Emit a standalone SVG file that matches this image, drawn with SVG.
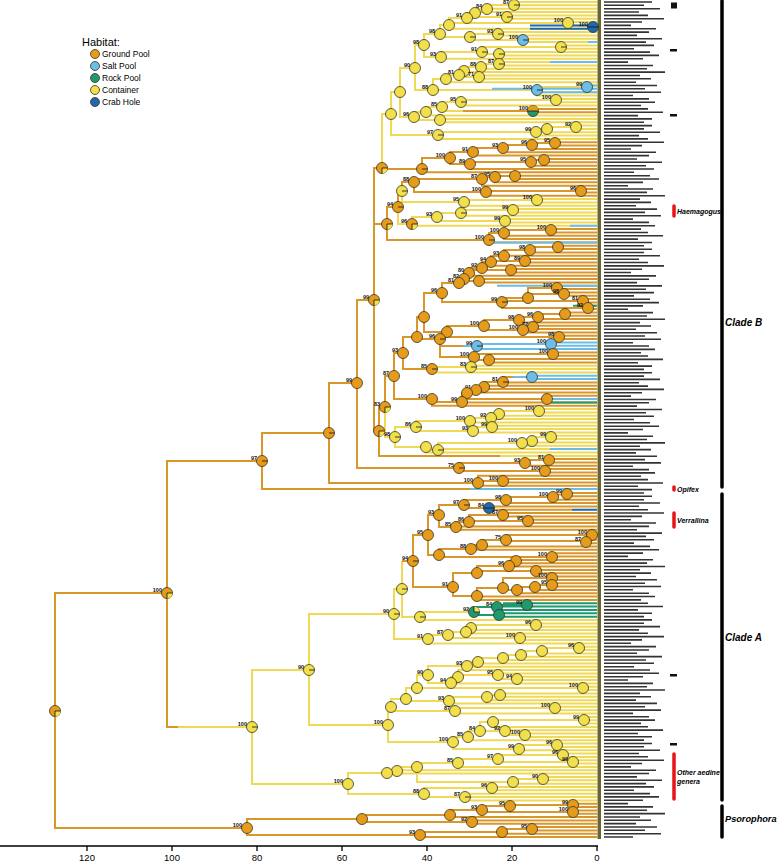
<svg xmlns="http://www.w3.org/2000/svg" width="779" height="862" viewBox="0 0 779 862">
<style>
.br{fill:none;stroke-width:2}
.O{stroke:#D9962A}.Y{stroke:#EFD955}.LB{stroke:#6CBDE6}.G{stroke:#1E9A70}.DB{stroke:#1F69AC}
.l{font-family:"Liberation Sans",Arial,sans-serif;font-size:5.5px;font-weight:bold;fill:#111;text-anchor:end}
.lab{font-family:"Liberation Sans",Arial,sans-serif;font-weight:bold;font-style:italic;fill:#000}
.ax{font-family:"Liberation Sans",Arial,sans-serif;font-size:9.5px;text-anchor:middle;fill:#000}
.lg{font-family:"Liberation Sans",Arial,sans-serif;font-size:8.5px;fill:#000}
.tk{stroke:#111;stroke-width:.8;fill:none}
.cs{stroke:#3a3320;stroke-width:.8}
</style>
<defs>
<g id="o"><circle r="5.5" fill="#E69C1A" class="cs"/></g>
<g id="ot"><circle r="5.5" fill="#E69C1A" class="cs"/><path d="M0 0H5.5" class="tk"/></g>
<g id="y"><circle r="5.5" fill="#F1E04C" class="cs"/></g>
<g id="yt"><circle r="5.5" fill="#F1E04C" class="cs"/><path d="M0 0H5.5" class="tk"/></g>
<g id="lb"><circle r="5.5" fill="#6CBDE8" class="cs"/></g>
<g id="lbt"><circle r="5.5" fill="#6CBDE8" class="cs"/><path d="M0 0H5.5" class="tk"/></g>
<g id="g"><circle r="5.5" fill="#1E9A70" class="cs"/></g>
<g id="db"><circle r="5.5" fill="#1F69AC" class="cs"/><path d="M-5.5 0H5.5" class="tk"/></g>
<g id="oy"><circle r="5.5" fill="#E69C1A" class="cs"/><path d="M0 0H5.5A5.5 5.5 0 0 1 0 5.5Z" fill="#F1E04C"/><path d="M5.5 0H0V5.5" class="tk"/></g>
<g id="og"><circle r="5.5" fill="#1E9A70" class="cs"/><path d="M-5.5 0A5.5 5.5 0 0 1 5.5 0Z" fill="#E69C1A"/><path d="M-5.5 0H5.5" class="tk"/></g>
<g id="gy"><circle r="5.5" fill="#1E9A70" class="cs"/><path d="M0 0V-5.5A5.5 5.5 0 0 1 5.5 0Z" fill="#F1E04C"/><path d="M0 -5.5V0H5.5" class="tk"/></g>
</defs>
<rect width="779" height="862" fill="#fff"/>

<!-- legend -->
<g id="legend">
<text x="82" y="46" font-family="Liberation Sans, Arial, sans-serif" font-size="11">Habitat:</text>
<circle cx="95" cy="54" r="4.5" fill="#E69C1A" class="cs"/><text class="lg" x="102" y="57">Ground Pool</text>
<circle cx="95" cy="66" r="4.5" fill="#6CBDE8" class="cs"/><text class="lg" x="102" y="69">Salt Pool</text>
<circle cx="95" cy="78" r="4.5" fill="#1E9A70" class="cs"/><text class="lg" x="102" y="81">Rock Pool</text>
<circle cx="95" cy="90" r="4.5" fill="#F1E04C" class="cs"/><text class="lg" x="102" y="93">Container</text>
<circle cx="95" cy="102" r="4.5" fill="#1F69AC" class="cs"/><text class="lg" x="102" y="105">Crab Hole</text>
</g>

<!-- connectors -->
<g id="connectors">
<path class="br Y" d="M391 114V92H400M391 114V135H438M400 92V68H415M400 92V117H414M415 68V45H424M415 68V90H433M424 45V34H440M424 45V57H441M440 34V25H449M440 34V37H470M449 25V18H467M449 25V23H568M449 25V28.7H597M467 18V13H475M467 18V17H507M475 13V9H487M475 13V12H597M487 9V5H514M487 9V8.7H597M514 5V2H597M514 5V5.3H597M507 17V15.4H597M507 17V18.7H597M568 23V22H597M568 23V25.4H597M470 37V34H498M470 37V40H523M498 34V32H597M498 34V35.4H597M523 40V38.7H597M523 40V42H597M441 57V52H482M441 57V58.8H597M482 52V47H561M482 52V54H499M561 47V45.4H597M561 47V48.8H597M499 54V52.1H597M499 54V55.4H597M433 90H537M446 79V75H459M433 90V79H446M446 79V82.2H597M459 75V71H464M459 75V77H479M464 71V67H481M464 71V72.1H597M481 67V64H499M481 67V68.8H597M499 64V62.1H597M499 64V65.5H597M479 77V75.5H597M479 77V78.8H597M537 90V87H587M537 90V92.2H597M537 90V95.5H597M587 87V85.5H597M587 87V88.8H597M414 117V112H426M414 117V120H440M426 112V107H442M426 112V115.6H597M442 107V102H461M442 107V111H463M461 102V100H556M461 102V105.5H597M556 100V98.9H597M556 100V102.2H597M440 120V118.9H597M440 120V122.2H597M438 135V132H536M438 135V138.9H597M536 132V129H547M536 132V135.6H597M547 129V127H576M547 129V132.3H597M576 127V125.6H597M576 127V128.9H597M382 168V114H391
M402 191V202H464M464 202V200H537M464 202V205.7H597M537 200V199H597M537 200V202.4H597M398 207V224H412M412 224V217H437M412 224V225.7H597M437 217V213H461M437 217V221H505M461 213V210H513M461 213V215.7H597M513 210V209H597M513 210V212.4H597M505 221V219H597M505 221V222.4H597
M385 407V437H395M395 437V427H416M395 437V447H426M416 427V421H470M416 427V431H473M470 421V418H491M470 421V422.4H597M491 418V414H499M491 418V419H597M499 414V411H539M499 414V415.8H597M539 411V409H597M539 411V412.4H597M473 431V427H492M473 431V432.4H597M492 427V425.8H597M492 427V429H597M426 447V450H438M426 447V452.4H597M438 450V443H522M438 450V449H597M522 443V441H532M522 443V445.8H597M532 441V437H551M532 441V442.4H597M551 437V435.8H597M551 437V439H597M432 369V367H471M432 369V372.4H597M471 367V365.8H597M471 367V369H597M500 456H597
M178 727H252M252 727V670H309M252 727V784H348M309 670V614H394M309 670V725H388M394 614V589H402M394 614V639H428M402 589V561M402 589V617H420M420 617V612H474M420 617V620H597M428 639V635H448M428 639V643.4H597M448 635V632H466M448 635V638H520M466 632V628H471M466 632V633.4H597M471 628V625H536M471 628V630H597M536 625V623.4H597M536 625V626.7H597M520 638V636.7H597M520 638V640H597M388 725V707H391M388 725V742H453M391 707V699H406M391 707V711H455M406 699V688H417M406 699V701H449M417 688V675H428M417 688V688H583M428 675V666H467M428 675V683H451M467 666V662H478M467 666V666.8H597M478 662V658H503M478 662V663.4H597M503 658V655H521M503 658V660.1H597M521 655V651H542M521 655V656.7H597M542 651V648H579M542 651V653.4H597M579 648V646.7H597M579 648V650.1H597M451 683V677H458M451 683V683.5H597M458 677V670.1H597M458 677V675H498M498 675V679H517M498 675V673.4H597M517 679V676.8H597M517 679V680.1H597M583 688V686.8H597M583 688V690.1H597M449 701V697H487M449 701V703.5H597M487 697V695H500M487 697V700.2H597M500 695V693.5H597M500 695V696.8H597M455 711V708H555M455 711V713.5H597M555 708V706.8H597M555 708V710.2H597M453 742V737H468M453 742V749H519M468 737V731H480M468 737V740.2H597M480 731V722H493M480 731H505M493 722V720H584M493 722V726.9H597M584 720V716.9H597M584 720V720.2H597M584 720V723.5H597M505 731V730.2H597M505 731V735H525M525 735V733.6H597M525 735V736.9H597M519 749V745H557M519 749V750.3H597M557 745V743.6H597M557 745V746.9H597M348 784V773H387M348 784V794H424M387 773V771H397M387 773V773.6H597M397 771V767H417M397 771V770.3H597M417 767V763H458M417 767V782H513M458 763V759H498M458 763V767H597M498 759V755H563M498 759V762H573M563 755V753.6H597M563 755V756.9H597M573 762V760.3H597M573 762V763.6H597M513 782V779H543M513 782V783.7H597M543 779V777H597M543 779V780.3H597M424 794V788H492M424 794V797H465M492 788V787H597M492 788V790.3H597M465 797V793.7H597M465 797V797H597M465 797V800.4H597"/>
<path class="br O" d="M55 711V593H167M55 711V828H247M167 593V461H262M167 593V727H178M262 461V433H329M262 461V489H470M329 433V383H357M329 433V483H478M357 383V300H374M357 383V468H459M374 300V168H382M374 300V224H387M374 300V431H379M382 168V169H422M422 169V158H450M422 169V172.3H597M450 158V152H473M450 158V164H470M473 152V148H503M473 152V155.6H597M503 148V145H532M503 148V152.3H597M532 145V143H555M532 145V149H597M555 143V142.3H597M555 143V145.6H597M470 164V162H531M470 164V169H597M531 162V160H544M531 162V165.7H597M544 160V159H597M544 160V162.3H597M387 224V207H398M387 224V240H489M398 207V191H402M402 191V182H414M414 182V179H482M414 182V192H486M482 179V177H495M482 179V185.7H597M495 177V176H515M495 177V182.3H597M515 176V175.7H597M515 176V179H597M486 192V191H581M486 192V195.7H597M581 191V189H597M581 191V192.4H597M489 240V233H504M489 240V242.4H597M504 233V230H551M504 233V235.7H597M504 233V239H597M551 230V229H597M551 230V232.4H597
M379 431V407H385M379 431V456H500M385 407V376H394M394 376V353H403M394 376V399H432M403 353V337H417M403 353V369H432M417 337V317H424M417 337V339H440M424 317V293H442M424 317V332H447M442 293V283H459M442 293V302H502M459 283V279H464M459 283V281H479M464 279V273H469M464 279V275.8H597M469 273V268H482M469 273V270H511M482 268V262H491M482 268V265.7H597M491 262V256H504M491 262V261H525M504 256V250H530M504 256V255.7H597M530 250V247H558M530 250V252.4H597M558 247V245.7H597M558 247V249H597M525 261V259H597M525 261V262.4H597M511 270V269H597M511 270V272.4H597M479 281V279H597M479 281V282.4H597M502 302V298H528M502 302V301H583M502 302V308H588M528 298V288H557M528 298V294H564M557 288V285.8H597M557 288V289H597M564 294V292.4H597M564 294V295.8H597M583 301V299H597M583 301V302.4H597M588 308V305.8H597M588 308V309H597M447 332V326H484M447 332V337H559M484 326V320H519M484 326V330H523M519 320V317H538M519 320V322.4H597M538 317V314H565M538 317V319H597M565 314V312.4H597M565 314V315.8H597M523 330V327H533M523 330V332.4H597M533 327V325.8H597M533 327V329H597M559 337V335.8H597M559 337V339H597M440 339V357H474M440 339V346H463M474 357V354H553M474 357V360H489M553 354V352.4H597M553 354V355.8H597M489 360V359H597M489 360V362.4H597M432 399V402H462M432 399V405.8H597M462 402V393H467M462 402V399H547M462 402V402.4H597M547 399V395.8H597M547 399V399H597M467 393V390H476M467 393V392.4H597M476 390V387H484M476 390V389H597M484 387V382H503M484 387V385.8H597M503 382V377H513M503 382V382.4H597M459 468V463H525M459 468V471H545M525 463V460H549M525 463V465.8H597M549 460V459H597M549 460V462.4H597M545 471V469H597M545 471V472.4H597M478 483V481H503M478 483V475.8H597M478 483V485.8H597M503 481V479H597M503 481V482.4H597M463 111H533M533 111V108.9H597M533 111V112.2H597
M402 561H413M413 561V535H428M413 561V587H453M428 535V515H439M428 535V555H439M439 515V505H464M439 515V527H456M464 505V500H506M464 505V508H489M506 500V497H553M506 500V503H597M553 497V494.6H567M553 497V499.7H597M567 494.6V493H597M567 494.6V496.3H597M489 508V506.4H597M489 508V509.7H572M456 527V522H469M456 527V526.4H597M456 527V529.8H597M469 522V515H503M469 522V521H528M503 515V513H597M503 515V516.4H597M528 521V519.8H597M528 521V523.1H597M439 555V549H471M439 555V557H552M471 549V545H482M471 549V549.8H597M482 545V540H506M482 545V546.5H597M506 540V535H592M506 540V541H586M592 535V533.1H597M592 535V536.4H597M586 541V539.8H597M586 541V543.2H597M552 557V553.2H597M552 557V556.5H597M453 587V573H477M453 587V596H477M477 573V566H509M477 573V571H536M509 566V561H516M509 566V566.6H597M516 561V559.9H597M516 561V563.2H597M536 571V569.9H597M536 571V573.2H597M477 596V588H503M477 596V596.6H597M477 596V600H597M503 588V578H552M503 588V590H517M552 578V576.6H597M552 578V579.9H597M517 590V587H535M517 590V593.3H597M535 587V585H552M535 587V590H597M552 585V583.2H597M552 585V586.6H597
M247 828V819H362M247 828V835H420M362 819V815H450M362 819V822H472M450 815V810H482M450 815V817H597M482 810V806H510M482 810V812H573M510 806V805H573M573 805V803.7H597M573 805V807H597M573 812V810.4H597M573 812V813.7H597M472 822V820.4H597M472 822V823.7H597M420 835V832H502M420 835V837H597M502 832V829H532M502 832V833.7H597M532 829V827H597M532 829V830.4H597"/>
<path class="br G" d="M474 612V607H497M474 612V615H499M497 607V605H527M497 607V610H597M527 605V603.3H597M527 605V606.6H597M499 615V613.3H597M499 615V616.7H597M503 603.3H527M503 606.6H527M573 305.8H597M547 402.4H597"/>
<path class="br LB" d="M470 489H597M463 346H477M477 346V344H551M477 346V349H597M551 344V342.4H597M551 344V345.8H597M513 377H532M532 377V375.8H597M532 377V379H597M547 399H597M588 42H597M550 62.1H597M492 88.8H597M537 92.2H597M587 85.5H597M489 242.4H597M497 285.8H597M570 225.7H597M550 449H597"/>
<path class="br DB" d="M530 25.4H597M530 28.7H597M572 509.7H597"/>
</g>

<!-- tip markers and tip label band -->
<rect x="597.5" y="0" width="3.5" height="839" fill="#6a6530"/>
<path fill="none" stroke="#333" stroke-width="1.6" d="M604 2h48M604 5.3h40M604 8.7h56M604 12h35M604 15.4h44M604 18.7h60M604 22h38M604 25.4h27M604 28.7h52M604 32.1h45M604 35.4h33M604 38.7h58M604 42.1h42M604 45.4h50M604 48.8h30M604 52.1h46M604 55.4h55M604 58.8h39M604 62.1h24M604 65.5h49M604 68.8h43M604 72.1h61M604 75.5h36M604 78.8h47M604 82.2h32M604 85.5h53M604 88.8h41M604 92.2h57M604 95.5h29M604 98.9h45M604 102.2h51M604 105.5h37M604 108.9h44M604 112.2h59M604 115.6h34M604 118.9h48M604 122.2h40M604 125.6h48M604 128.9h40M604 132.3h56M604 135.6h35M604 138.9h44M604 142.3h60M604 145.6h38M604 149h27M604 152.3h52M604 155.6h45M604 159h33M604 162.3h58M604 165.7h42M604 169h50M604 172.3h30M604 175.7h46M604 179h55M604 182.4h39M604 185.7h24M604 189h49M604 192.4h43M604 195.7h61M604 199.1h36M604 202.4h47M604 205.7h32M604 209.1h53M604 212.4h41M604 215.8h57M604 219.1h29M604 222.4h45M604 225.8h51M604 229.1h37M604 232.5h44M604 235.8h59M604 239.1h34M604 242.5h48M604 245.8h40M604 249.2h48M604 252.5h40M604 255.8h56M604 259.2h35M604 262.5h44M604 265.9h60M604 269.2h38M604 272.5h27M604 275.9h52M604 279.2h45M604 282.6h33M604 285.9h58M604 289.2h42M604 292.6h50M604 295.9h30M604 299.3h46M604 302.6h55M604 305.9h39M604 309.3h24M604 312.6h49M604 316h43M604 319.3h61M604 322.6h36M604 326h47M604 329.3h32M604 332.7h53M604 336h41M604 339.3h57M604 342.7h29M604 346h45M604 349.4h51M604 352.7h37M604 356h44M604 359.4h59M604 362.7h34M604 366.1h48M604 369.4h40M604 372.7h48M604 376.1h40M604 379.4h56M604 382.8h35M604 386.1h44M604 389.4h60M604 392.8h38M604 396.1h27M604 399.5h52M604 402.8h45M604 406.1h33M604 409.5h58M604 412.8h42M604 416.2h50M604 419.5h30M604 422.8h46M604 426.2h55M604 429.5h39M604 432.9h24M604 436.2h49M604 439.5h43M604 442.9h61M604 446.2h36M604 449.6h47M604 452.9h32M604 456.2h53M604 459.6h41M604 462.9h57M604 466.3h29M604 469.6h45M604 472.9h51M604 476.3h37M604 479.6h44M604 483h59M604 486.3h34M604 489.6h48M604 493h40M604 496.3h48M604 499.7h40M604 503h56M604 506.3h35M604 509.7h44M604 513h60M604 516.4h38M604 519.7h27M604 523h52M604 526.4h45M604 529.7h33M604 533.1h58M604 536.4h42M604 539.7h50M604 543.1h30M604 546.4h46M604 549.8h55M604 553.1h39M604 556.4h24M604 559.8h49M604 563.1h43M604 566.5h61M604 569.8h36M604 573.1h47M604 576.5h32M604 579.8h53M604 583.2h41M604 586.5h57M604 589.8h29M604 593.2h45M604 596.5h51M604 599.9h37M604 603.2h44M604 606.5h59M604 609.9h34M604 613.2h48M604 616.6h40M604 619.9h48M604 623.2h40M604 626.6h56M604 629.9h35M604 633.3h44M604 636.6h60M604 639.9h38M604 643.3h27M604 646.6h52M604 650h45M604 653.3h33M604 656.6h58M604 660h42M604 663.3h50M604 666.7h30M604 670h46M604 673.3h55M604 676.7h39M604 680h24M604 683.4h49M604 686.7h43M604 690h61M604 693.4h36M604 696.7h47M604 700.1h32M604 703.4h53M604 706.7h41M604 710.1h57M604 713.4h29M604 716.8h45M604 720.1h51M604 723.4h37M604 726.8h44M604 730.1h59M604 733.5h34M604 736.8h48M604 740.1h40M604 743.5h48M604 746.8h40M604 750.2h56M604 753.5h35M604 756.8h44M604 760.2h60M604 763.5h38M604 766.9h27M604 770.2h52M604 773.5h45M604 776.9h33M604 780.2h58M604 783.6h42M604 786.9h50M604 790.2h30M604 793.6h46M604 796.9h55M604 800.3h39M604 803.6h24M604 806.9h49M604 810.3h43M604 813.6h61M604 817h36M604 820.3h47M604 823.6h32M604 827h53M604 830.3h41M604 833.7h57M604 837h29"/>

<!-- nodes: Clade B -->
<g id="nT19"><use href="#yt" x="514" y="5"/><text class="l" x="509" y="3.5">87</text></g>
<g id="nT17"><use href="#y" x="487" y="9"/><text class="l" x="482" y="7.5">84</text></g>
<g id="nT15"><use href="#y" x="475" y="13"/></g>
<g id="nT16"><use href="#yt" x="507" y="17"/><text class="l" x="502" y="15.5">91</text></g>
<g id="nT13"><use href="#y" x="467" y="18"/><text class="l" x="462" y="16.5">91</text></g>
<g id="nT14"><use href="#y" x="568" y="23"/><text class="l" x="563" y="21.5">100</text></g>
<g id="nT14b"><use href="#db" x="593" y="27"/><text class="l" x="588" y="25.5">100</text></g>
<g id="nT11"><use href="#y" x="449" y="25"/></g>
<g id="nT28"><use href="#yt" x="498" y="34"/><text class="l" x="493" y="32.5">93</text></g>
<g id="nT29"><use href="#lbt" x="523" y="40"/><text class="l" x="518" y="38.5">100</text></g>
<g id="nT12"><use href="#yt" x="470" y="37"/></g>
<g id="nT9"><use href="#y" x="440" y="34"/><text class="l" x="435" y="32.5">98</text></g>
<g id="nT30"><use href="#yt" x="561" y="47"/></g>
<g id="nT31"><use href="#yt" x="499" y="54"/></g>
<g id="nT20"><use href="#yt" x="482" y="52"/><text class="l" x="477" y="50.5">91</text></g>
<g id="nT8"><use href="#y" x="441" y="57"/><text class="l" x="436" y="55.5">93</text></g>
<g id="nT7"><use href="#y" x="424" y="45"/><text class="l" x="419" y="43.5">98</text></g>
<g id="nT22"><use href="#yt" x="499" y="64"/><text class="l" x="494" y="62.5">87</text></g>
<g id="nT23"><use href="#y" x="481" y="67"/><text class="l" x="476" y="65.5">88</text></g>
<g id="nT27"><use href="#y" x="464" y="71"/></g>
<g id="nT32"><use href="#y" x="479" y="77"/><text class="l" x="474" y="75.5">71</text></g>
<g id="nT26"><use href="#y" x="459" y="75"/><text class="l" x="454" y="73.5">81</text></g>
<g id="nT25"><use href="#y" x="446" y="79"/></g>
<g id="nT33"><use href="#lb" x="587" y="87"/><text class="l" x="582" y="85.5">99</text></g>
<g id="nT34"><use href="#lbt" x="537" y="90"/><text class="l" x="532" y="88.5">100</text></g>
<g id="nT21"><use href="#y" x="433" y="90"/><text class="l" x="428" y="88.5">88</text></g>
<g id="nT3"><use href="#y" x="415" y="68"/><text class="l" x="410" y="66.5">90</text></g>
<g id="nT35"><use href="#y" x="556" y="100"/><text class="l" x="551" y="98.5">100</text></g>
<g id="nT36"><use href="#yt" x="461" y="102"/><text class="l" x="456" y="100.5">95</text></g>
<g id="nT37"><use href="#og" x="533" y="111"/><text class="l" x="528" y="109.5">100</text></g>
<g id="nT38"><use href="#y" x="442" y="107"/><text class="l" x="437" y="105.5">85</text></g>
<g id="nT39"><use href="#y" x="426" y="112"/></g>
<g id="nT40"><use href="#y" x="440" y="120"/></g>
<g id="nT4"><use href="#y" x="414" y="117"/><text class="l" x="409" y="115.5">96</text></g>
<g id="nT1"><use href="#y" x="400" y="92"/></g>
<g id="nT41"><use href="#y" x="576" y="127"/><text class="l" x="571" y="125.5">92</text></g>
<g id="nT42"><use href="#y" x="547" y="129"/></g>
<g id="nT43"><use href="#y" x="536" y="132"/><text class="l" x="531" y="130.5">99</text></g>
<g id="nT2"><use href="#yt" x="438" y="135"/><text class="l" x="433" y="133.5">97</text></g>
<g id="nT0"><use href="#y" x="391" y="114"/></g>
<g id="nN382"><use href="#oy" x="382" y="168"/></g>
<g id="nO1"><use href="#o" x="555" y="143"/><text class="l" x="550" y="141.5">95</text></g>
<g id="nO2"><use href="#o" x="532" y="145"/><text class="l" x="527" y="143.5">96</text></g>
<g id="nO3"><use href="#o" x="503" y="148"/><text class="l" x="498" y="146.5">93</text></g>
<g id="nO4"><use href="#o" x="473" y="152"/><text class="l" x="468" y="150.5">91</text></g>
<g id="nO5"><use href="#o" x="544" y="160"/></g>
<g id="nO6"><use href="#o" x="531" y="162"/><text class="l" x="526" y="160.5">95</text></g>
<g id="nO7"><use href="#o" x="470" y="164"/><text class="l" x="465" y="162.5">89</text></g>
<g id="nO8"><use href="#o" x="450" y="158"/><text class="l" x="445" y="156.5">100</text></g>
<g id="nN422"><use href="#ot" x="422" y="169"/></g>
<g id="nO9"><use href="#o" x="515" y="176"/></g>
<g id="nO10"><use href="#o" x="495" y="177"/><text class="l" x="490" y="175.5">95</text></g>
<g id="nO11"><use href="#o" x="482" y="179"/><text class="l" x="477" y="177.5">87</text></g>
<g id="nO13"><use href="#o" x="581" y="191"/><text class="l" x="576" y="189.5">96</text></g>
<g id="nO14"><use href="#o" x="486" y="192"/><text class="l" x="481" y="190.5">100</text></g>
<g id="nO15"><use href="#o" x="414" y="182"/><text class="l" x="409" y="180.5">88</text></g>
<g id="nN402"><use href="#yt" x="402" y="191"/></g>
<g id="nY1"><use href="#y" x="537" y="200"/><text class="l" x="532" y="198.5">100</text></g>
<g id="nY2"><use href="#y" x="464" y="202"/><text class="l" x="459" y="200.5">95</text></g>
<g id="nY3"><use href="#y" x="513" y="210"/><text class="l" x="508" y="208.5">99</text></g>
<g id="nY4"><use href="#yt" x="461" y="213"/></g>
<g id="nY6"><use href="#y" x="505" y="221"/><text class="l" x="500" y="219.5">99</text></g>
<g id="nY5"><use href="#y" x="437" y="217"/><text class="l" x="432" y="215.5">93</text></g>
<g id="nY7"><use href="#oy" x="412" y="224"/><text class="l" x="407" y="222.5">96</text></g>
<g id="nN398"><use href="#ot" x="398" y="207"/><text class="l" x="393" y="205.5">94</text></g>
<g id="nO17"><use href="#o" x="551" y="230"/><text class="l" x="546" y="228.5">100</text></g>
<g id="nO18"><use href="#o" x="504" y="233"/><text class="l" x="499" y="231.5">100</text></g>
<g id="nO16"><use href="#ot" x="489" y="240"/><text class="l" x="484" y="238.5">100</text></g>
<g id="nN387"><use href="#oy" x="387" y="224"/></g>
<g id="nC1"><use href="#o" x="558" y="247"/></g>
<g id="nC2"><use href="#o" x="530" y="250"/><text class="l" x="525" y="248.5">98</text></g>
<g id="nC3"><use href="#o" x="504" y="256"/><text class="l" x="499" y="254.5">93</text></g>
<g id="nC4"><use href="#o" x="525" y="261"/><text class="l" x="520" y="259.5">89</text></g>
<g id="nC5"><use href="#o" x="491" y="262"/><text class="l" x="486" y="260.5">94</text></g>
<g id="nC6"><use href="#o" x="482" y="268"/><text class="l" x="477" y="266.5">92</text></g>
<g id="nC7"><use href="#o" x="511" y="270"/></g>
<g id="nC8"><use href="#o" x="469" y="273"/><text class="l" x="464" y="271.5">80</text></g>
<g id="nC9"><use href="#o" x="464" y="279"/><text class="l" x="459" y="277.5">82</text></g>
<g id="nC10"><use href="#o" x="479" y="281"/></g>
<g id="nC11"><use href="#o" x="459" y="283"/><text class="l" x="454" y="281.5">81</text></g>
<g id="nC13"><use href="#o" x="557" y="288"/><text class="l" x="552" y="286.5">100</text></g>
<g id="nC14"><use href="#o" x="564" y="294"/><text class="l" x="559" y="292.5">98</text></g>
<g id="nC15"><use href="#o" x="528" y="298"/></g>
<g id="nC16"><use href="#o" x="583" y="301"/><text class="l" x="578" y="299.5">81</text></g>
<g id="nC17"><use href="#o" x="588" y="308"/><text class="l" x="583" y="306.5">92</text></g>
<g id="nC18"><use href="#ot" x="502" y="302"/><text class="l" x="497" y="300.5">99</text></g>
<g id="nN442"><use href="#o" x="442" y="293"/><text class="l" x="437" y="291.5">96</text></g>
<g id="nD1"><use href="#o" x="565" y="314"/></g>
<g id="nD2"><use href="#o" x="538" y="317"/><text class="l" x="533" y="315.5">96</text></g>
<g id="nD3"><use href="#o" x="519" y="320"/><text class="l" x="514" y="318.5">98</text></g>
<g id="nD4"><use href="#o" x="533" y="327"/><text class="l" x="528" y="325.5">72</text></g>
<g id="nD5"><use href="#o" x="523" y="330"/><text class="l" x="518" y="328.5">100</text></g>
<g id="nD6"><use href="#o" x="484" y="326"/><text class="l" x="479" y="324.5">100</text></g>
<g id="nD7"><use href="#o" x="559" y="337"/><text class="l" x="554" y="335.5">98</text></g>
<g id="nD8"><use href="#o" x="447" y="332"/></g>
<g id="nN424"><use href="#o" x="424" y="317"/></g>
<g id="nD9"><use href="#lb" x="551" y="344"/><text class="l" x="546" y="342.5">100</text></g>
<g id="nD10"><use href="#lbt" x="477" y="346"/><text class="l" x="472" y="344.5">99</text></g>
<g id="nD11"><use href="#o" x="553" y="354"/><text class="l" x="548" y="352.5">100</text></g>
<g id="nD12"><use href="#o" x="489" y="360"/></g>
<g id="nD13"><use href="#o" x="474" y="357"/><text class="l" x="469" y="355.5">100</text></g>
<g id="nN440"><use href="#ot" x="440" y="339"/><text class="l" x="435" y="337.5">96</text></g>
<g id="nN417"><use href="#o" x="417" y="337"/></g>
<g id="nD14"><use href="#yt" x="471" y="367"/><text class="l" x="466" y="365.5">83</text></g>
<g id="nN432b"><use href="#ot" x="432" y="369"/><text class="l" x="427" y="367.5">85</text></g>
<g id="nN403"><use href="#o" x="403" y="353"/><text class="l" x="398" y="351.5">93</text></g>
<g id="nD15"><use href="#lb" x="532" y="377"/></g>
<g id="nD16"><use href="#ot" x="503" y="382"/><text class="l" x="498" y="380.5">81</text></g>
<g id="nD17"><use href="#o" x="484" y="387"/></g>
<g id="nD18"><use href="#o" x="476" y="390"/><text class="l" x="471" y="388.5">91</text></g>
<g id="nD19"><use href="#o" x="467" y="393"/></g>
<g id="nD21"><use href="#o" x="547" y="399"/></g>
<g id="nD20"><use href="#o" x="462" y="402"/><text class="l" x="457" y="400.5">99</text></g>
<g id="nN432"><use href="#o" x="432" y="399"/><text class="l" x="427" y="397.5">100</text></g>
<g id="nN394"><use href="#o" x="394" y="376"/><text class="l" x="389" y="374.5">87</text></g>
<g id="nE1"><use href="#y" x="539" y="411"/><text class="l" x="534" y="409.5">100</text></g>
<g id="nE2"><use href="#y" x="499" y="414"/></g>
<g id="nE3"><use href="#y" x="491" y="418"/><text class="l" x="486" y="416.5">92</text></g>
<g id="nE4"><use href="#y" x="470" y="421"/><text class="l" x="465" y="419.5">100</text></g>
<g id="nE5"><use href="#y" x="492" y="427"/><text class="l" x="487" y="425.5">99</text></g>
<g id="nE6"><use href="#y" x="473" y="431"/><text class="l" x="468" y="429.5">93</text></g>
<g id="nN416"><use href="#yt" x="416" y="427"/><text class="l" x="411" y="425.5">86</text></g>
<g id="nE7"><use href="#y" x="551" y="437"/><text class="l" x="546" y="435.5">99</text></g>
<g id="nE8"><use href="#y" x="532" y="441"/></g>
<g id="nE9"><use href="#y" x="522" y="443"/><text class="l" x="517" y="441.5">100</text></g>
<g id="nE10"><use href="#yt" x="438" y="450"/></g>
<g id="nN426"><use href="#y" x="426" y="447"/></g>
<g id="nN395"><use href="#yt" x="395" y="437"/><text class="l" x="390" y="435.5">98</text></g>
<g id="nN385"><use href="#oy" x="385" y="407"/><text class="l" x="380" y="405.5">83</text></g>
<g id="nN379"><use href="#oy" x="379" y="431"/></g>
<g id="nN374"><use href="#oy" x="374" y="300"/><text class="l" x="369" y="298.5">99</text></g>
<g id="nF1"><use href="#o" x="549" y="460"/><text class="l" x="544" y="458.5">81</text></g>
<g id="nF2"><use href="#o" x="525" y="463"/><text class="l" x="520" y="461.5">93</text></g>
<g id="nF3"><use href="#o" x="545" y="471"/><text class="l" x="540" y="469.5">100</text></g>
<g id="nN459"><use href="#ot" x="459" y="468"/><text class="l" x="454" y="466.5">75</text></g>
<g id="nG1"><use href="#o" x="503" y="481"/><text class="l" x="498" y="479.5">100</text></g>
<g id="nN478"><use href="#o" x="478" y="483"/><text class="l" x="473" y="481.5">100</text></g>
<g id="nN99b"><use href="#o" x="357" y="383"/><text class="l" x="352" y="381.5">99</text></g>
<g id="nN329"><use href="#ot" x="329" y="433"/></g>
<g id="nN97"><use href="#ot" x="262" y="461"/><text class="l" x="257" y="459.5">97</text></g>
<g id="nA100"><use href="#oy" x="167" y="593"/><text class="l" x="162" y="591.5">100</text></g>
<g id="nR"><use href="#oy" x="55" y="711"/></g>

<!-- nodes: Clade A -->
<g id="nH1"><use href="#o" x="567" y="494"/><text class="l" x="562" y="492.5">99</text></g>
<g id="nH2"><use href="#o" x="553" y="497"/><text class="l" x="548" y="495.5">100</text></g>
<g id="nH3"><use href="#o" x="506" y="500"/><text class="l" x="501" y="498.5">98</text></g>
<g id="nH4"><use href="#db" x="489" y="508"/><text class="l" x="484" y="506.5">84</text></g>
<g id="nH7"><use href="#ot" x="464" y="505"/><text class="l" x="459" y="503.5">97</text></g>
<g id="nH5"><use href="#o" x="503" y="515"/><text class="l" x="498" y="513.5">87</text></g>
<g id="nH8"><use href="#o" x="528" y="521"/><text class="l" x="523" y="519.5">95</text></g>
<g id="nH9"><use href="#o" x="469" y="522"/><text class="l" x="464" y="520.5">86</text></g>
<g id="nH10"><use href="#o" x="456" y="527"/><text class="l" x="451" y="525.5">85</text></g>
<g id="nA93"><use href="#o" x="439" y="515"/><text class="l" x="434" y="513.5">93</text></g>
<g id="nH11"><use href="#o" x="592" y="535"/><text class="l" x="587" y="533.5">100</text></g>
<g id="nH12"><use href="#o" x="586" y="542"/><text class="l" x="581" y="540.5">87</text></g>
<g id="nH13"><use href="#o" x="506" y="540"/><text class="l" x="501" y="538.5">75</text></g>
<g id="nH14"><use href="#o" x="482" y="545"/></g>
<g id="nH15"><use href="#o" x="471" y="549"/><text class="l" x="466" y="547.5">88</text></g>
<g id="nH16"><use href="#o" x="552" y="557"/><text class="l" x="547" y="555.5">100</text></g>
<g id="nA439"><use href="#o" x="439" y="555"/></g>
<g id="nA95"><use href="#o" x="428" y="535"/><text class="l" x="423" y="533.5">95</text></g>
<g id="nH17a"><use href="#o" x="516" y="561"/></g>
<g id="nH17"><use href="#o" x="509" y="566"/><text class="l" x="504" y="564.5">96</text></g>
<g id="nH18"><use href="#o" x="536" y="571"/></g>
<g id="nH19"><use href="#o" x="477" y="573"/></g>
<g id="nH20"><use href="#o" x="552" y="578"/><text class="l" x="547" y="576.5">100</text></g>
<g id="nH21"><use href="#o" x="552" y="585"/><text class="l" x="547" y="583.5">95</text></g>
<g id="nH22"><use href="#o" x="535" y="587"/></g>
<g id="nH23"><use href="#o" x="517" y="590"/></g>
<g id="nH24"><use href="#o" x="503" y="588"/></g>
<g id="nH25"><use href="#o" x="477" y="596"/></g>
<g id="nA91b"><use href="#o" x="453" y="587"/><text class="l" x="448" y="585.5">91</text></g>
<g id="nA94"><use href="#ot" x="413" y="561"/><text class="l" x="408" y="559.5">94</text></g>
<g id="nH26"><use href="#g" x="527" y="605"/><text class="l" x="522" y="603.5">99</text></g>
<g id="nH27"><use href="#g" x="497" y="607"/><text class="l" x="492" y="605.5">84</text></g>
<g id="nH28"><use href="#g" x="499" y="615"/></g>
<g id="nH29"><use href="#gy" x="474" y="612"/><text class="l" x="469" y="610.5">92</text></g>
<g id="nA420"><use href="#yt" x="420" y="617"/></g>
<g id="nA402"><use href="#yt" x="402" y="589"/></g>
<g id="nI1"><use href="#y" x="536" y="625"/><text class="l" x="531" y="623.5">96</text></g>
<g id="nI2"><use href="#y" x="471" y="628"/></g>
<g id="nI3"><use href="#y" x="466" y="632"/></g>
<g id="nI4"><use href="#y" x="520" y="638"/><text class="l" x="515" y="636.5">100</text></g>
<g id="nI5"><use href="#y" x="448" y="635"/><text class="l" x="443" y="633.5">87</text></g>
<g id="nA91"><use href="#y" x="428" y="639"/><text class="l" x="423" y="637.5">91</text></g>
<g id="nA90b"><use href="#yt" x="394" y="614"/><text class="l" x="389" y="612.5">90</text></g>
<g id="nI6"><use href="#y" x="579" y="648"/><text class="l" x="574" y="646.5">96</text></g>
<g id="nI7"><use href="#y" x="542" y="651"/></g>
<g id="nI8"><use href="#y" x="521" y="655"/></g>
<g id="nI9"><use href="#y" x="503" y="658"/></g>
<g id="nI10"><use href="#y" x="478" y="662"/></g>
<g id="nI11"><use href="#y" x="467" y="666"/><text class="l" x="462" y="664.5">93</text></g>
<g id="nI12"><use href="#y" x="517" y="679"/><text class="l" x="512" y="677.5">94</text></g>
<g id="nI13"><use href="#y" x="498" y="675"/><text class="l" x="493" y="673.5">95</text></g>
<g id="nI14"><use href="#y" x="458" y="677"/></g>
<g id="nI15"><use href="#y" x="451" y="683"/><text class="l" x="446" y="681.5">94</text></g>
<g id="nI17"><use href="#y" x="428" y="675"/><text class="l" x="423" y="673.5">90</text></g>
<g id="nI16"><use href="#y" x="583" y="688"/><text class="l" x="578" y="686.5">100</text></g>
<g id="nI18"><use href="#y" x="417" y="688"/></g>
<g id="nI19"><use href="#y" x="500" y="695"/></g>
<g id="nI20"><use href="#y" x="487" y="697"/></g>
<g id="nI21"><use href="#y" x="449" y="701"/><text class="l" x="444" y="699.5">93</text></g>
<g id="nI22"><use href="#y" x="555" y="708"/><text class="l" x="550" y="706.5">100</text></g>
<g id="nI23"><use href="#y" x="455" y="711"/><text class="l" x="450" y="709.5">87</text></g>
<g id="nI24"><use href="#y" x="406" y="699"/></g>
<g id="nI25"><use href="#y" x="391" y="707"/></g>
<g id="nI27"><use href="#y" x="584" y="720"/><text class="l" x="579" y="718.5">99</text></g>
<g id="nI28"><use href="#y" x="493" y="722"/></g>
<g id="nI29"><use href="#y" x="525" y="735"/><text class="l" x="520" y="733.5">100</text></g>
<g id="nI30"><use href="#y" x="505" y="731"/><text class="l" x="500" y="729.5">92</text></g>
<g id="nI31"><use href="#y" x="480" y="731"/><text class="l" x="475" y="729.5">84</text></g>
<g id="nI32"><use href="#y" x="468" y="737"/><text class="l" x="463" y="735.5">85</text></g>
<g id="nI34"><use href="#y" x="557" y="745"/><text class="l" x="552" y="743.5">96</text></g>
<g id="nI33"><use href="#y" x="519" y="749"/><text class="l" x="514" y="747.5">99</text></g>
<g id="nI26"><use href="#y" x="453" y="742"/><text class="l" x="448" y="740.5">100</text></g>
<g id="nA100c"><use href="#y" x="388" y="725"/><text class="l" x="383" y="723.5">100</text></g>
<g id="nA90"><use href="#yt" x="309" y="670"/><text class="l" x="304" y="668.5">90</text></g>
<g id="nI35"><use href="#y" x="563" y="755"/><text class="l" x="558" y="753.5">96</text></g>
<g id="nI36"><use href="#y" x="573" y="762"/><text class="l" x="568" y="760.5">99</text></g>
<g id="nI37"><use href="#y" x="498" y="759"/><text class="l" x="493" y="757.5">97</text></g>
<g id="nI38"><use href="#y" x="458" y="763"/><text class="l" x="453" y="761.5">85</text></g>
<g id="nJ5"><use href="#y" x="543" y="779"/><text class="l" x="538" y="777.5">90</text></g>
<g id="nJ4"><use href="#y" x="513" y="782"/></g>
<g id="nJ3"><use href="#y" x="417" y="767"/></g>
<g id="nJ2"><use href="#y" x="397" y="771"/></g>
<g id="nJ1"><use href="#y" x="387" y="773"/></g>
<g id="nJ8"><use href="#y" x="492" y="788"/><text class="l" x="487" y="786.5">96</text></g>
<g id="nJ7"><use href="#yt" x="465" y="797"/><text class="l" x="460" y="795.5">87</text></g>
<g id="nJ6"><use href="#y" x="424" y="794"/><text class="l" x="419" y="792.5">88</text></g>
<g id="nA100b"><use href="#y" x="348" y="784"/><text class="l" x="343" y="782.5">100</text></g>
<g id="nCA"><use href="#yt" x="252" y="727"/><text class="l" x="247" y="725.5">100</text></g>

<!-- nodes: Psorophora -->
<g id="nK1"><use href="#o" x="573" y="805"/><text class="l" x="568" y="803.5">99</text></g>
<g id="nK2"><use href="#o" x="510" y="806"/><text class="l" x="505" y="804.5">95</text></g>
<g id="nK3"><use href="#o" x="573" y="812"/><text class="l" x="568" y="810.5">100</text></g>
<g id="nK4"><use href="#o" x="482" y="810"/><text class="l" x="477" y="808.5">93</text></g>
<g id="nK5"><use href="#o" x="450" y="815"/></g>
<g id="nK6"><use href="#o" x="472" y="822"/><text class="l" x="467" y="820.5">92</text></g>
<g id="nP1"><use href="#o" x="362" y="819"/></g>
<g id="nK7"><use href="#o" x="532" y="829"/><text class="l" x="527" y="827.5">95</text></g>
<g id="nK8"><use href="#o" x="502" y="832"/></g>
<g id="nP2"><use href="#o" x="420" y="835"/><text class="l" x="415" y="833.5">93</text></g>
<g id="nPS"><use href="#o" x="247" y="828"/><text class="l" x="242" y="826.5">100</text></g>

<!-- right annotations -->
<g id="marks" fill="#111">
<rect x="671" y="2.5" width="6" height="6"/>
<rect x="670" y="49" width="7" height="2.5"/>
<rect x="670" y="114" width="7" height="2.5"/>
<rect x="670" y="674" width="7" height="2.5"/>
<rect x="670" y="743" width="7" height="2.5"/>
</g>
<g id="genus-bars" stroke="#E8141B" stroke-width="3.5" stroke-linecap="round">
<path d="M674 206V216M674 487V490M674 513V527M674 754V799"/>
</g>
<g id="genus-labels" class="lab" font-size="7">
<text x="677" y="214">Haemagogus</text>
<text x="677" y="491.5">Opifex</text>
<text x="677" y="522.5">Verrallina</text>
<text x="677" y="775">Other aedine</text>
<text x="677" y="784">genera</text>
</g>
<g id="clade-bars" stroke="#000" stroke-width="3.5" stroke-linecap="round">
<path d="M722 1V487M722 494V800M722 806V837"/>
</g>
<g id="clade-labels" class="lab" font-size="10">
<text x="725" y="326">Clade B</text>
<text x="725" y="641">Clade A</text>
<text x="725" y="822" font-size="9.2">Psorophora</text>
</g>

<!-- axis -->
<g id="axis">
<path d="M0 846H598M87 846V851M172 846V851M257 846V851M342 846V851M427 846V851M512 846V851M597 846V851" stroke="#000" stroke-width="1.3" fill="none"/>
<text class="ax" x="87" y="861">120</text>
<text class="ax" x="172" y="861">100</text>
<text class="ax" x="257" y="861">80</text>
<text class="ax" x="342" y="861">60</text>
<text class="ax" x="427" y="861">40</text>
<text class="ax" x="512" y="861">20</text>
<text class="ax" x="597" y="861">0</text>
</g>
</svg>
